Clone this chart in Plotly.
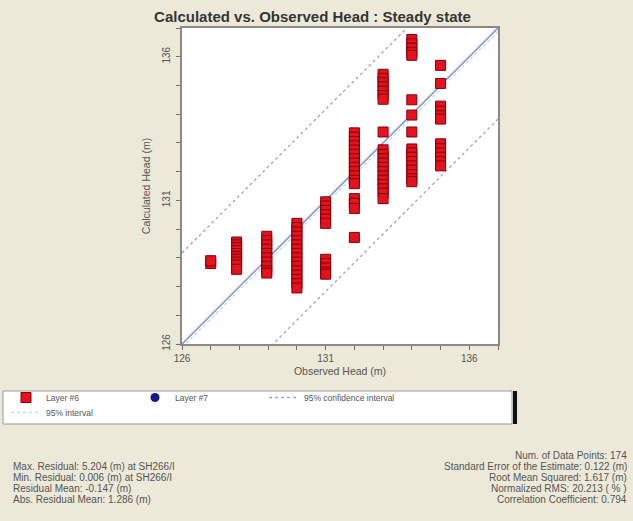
import plotly.graph_objects as go

# ---------------- data ----------------
obs_cols = [127.0, 127.9, 128.95, 130.0, 131.0, 132.0, 133.0, 134.0, 135.0]
calc_cols = [
    [128.8, 128.9],
    [129.55, 129.45, 129.35, 129.25, 129.15, 129.05, 128.95, 128.85, 128.75, 128.6],
    [129.75, 129.6, 129.45, 129.3, 129.15, 129.0, 128.85, 128.7, 128.55, 128.47],
    [130.2, 130.05, 129.9, 129.75, 129.6, 129.45, 129.3, 129.15, 129.0, 128.85,
     128.7, 128.55, 128.4, 128.25, 128.1, 127.95],
    [130.95, 130.8, 130.65, 130.5, 130.35, 130.2, 128.95, 128.8, 128.65, 128.5, 128.43],
    [133.35, 133.2, 133.05, 132.9, 132.75, 132.6, 132.45, 132.3, 132.15, 132.0,
     131.85, 131.7, 131.58, 131.06, 130.9, 130.72, 129.71],
    [135.39, 135.25, 135.1, 134.95, 134.8, 134.65, 134.52, 133.38, 132.76, 132.6,
     132.45, 132.3, 132.15, 132.0, 131.85, 131.7, 131.55, 131.4, 131.25, 131.06],
    [136.6, 136.45, 136.3, 136.15, 136.05, 134.5, 133.97, 133.38, 132.79, 132.65,
     132.5, 132.35, 132.2, 132.05, 131.9, 131.75, 131.65],
    [135.7, 135.07, 134.28, 134.1, 133.95, 133.83, 132.97, 132.8, 132.65, 132.5,
     132.35, 132.2],
]
line_x = [126, 137]
conf_offset = 3.17      # 95% confidence interval half-width (m)
interval_offset = -0.12 # 95% interval line offset (m)

axis_range = [126, 137]
tick_vals = [126, 131, 136]

title_text = "Calculated vs. Observed Head : Steady state"
x_title = "Observed Head (m)"
y_title = "Calculated Head (m)"
left_stats = [
    "Max. Residual: 5.204 (m) at SH266/I",
    "Min. Residual: 0.006 (m) at SH266/I",
    "Residual Mean: -0.147 (m)",
    "Abs. Residual Mean: 1.286 (m)",
]
right_stats = [
    "Num. of Data Points: 174",
    "Standard Error of the Estimate: 0.122 (m)",
    "Root Mean Squared: 1.617 (m)",
    "Normalized RMS: 20.213 ( % )",
    "Correlation Coefficient: 0.794",
]

# ---------------- layout helpers ----------------
W, H = 633, 521
L, R, T, B = 182, 135, 28, 177
PW, PH = W - L - R, H - T - B


def xp(px):
    return (px - L) / PW


def yp(py):
    return (H - B - py) / PH


BG = "#ECE9D8"
FONT = "Liberation Sans"
TXT = "#555555"

obs_all, calc_all = [], []
for o, cs in zip(obs_cols, calc_cols):
    for c in cs:
        obs_all.append(o)
        calc_all.append(c)

fig = go.Figure()

# 1:1 line
fig.add_trace(go.Scatter(x=line_x, y=line_x, mode="lines",
                         line=dict(color="#8C84D6", width=1.5),
                         showlegend=False, hoverinfo="skip"))
# 95% interval line
fig.add_trace(go.Scatter(x=line_x, y=[v + interval_offset for v in line_x], mode="lines",
                         line=dict(color="#9FEFF2", width=1.5, dash="dot"),
                         name="95% interval", legend="legend2", hoverinfo="skip"))
# confidence interval lines
fig.add_trace(go.Scatter(x=line_x, y=[v + conf_offset for v in line_x], mode="lines",
                         line=dict(color="#A39FCF", width=1.3, dash="dot"),
                         name="95% confidence interval", legend="legend3", hoverinfo="skip"))
fig.add_trace(go.Scatter(x=line_x, y=[v - conf_offset for v in line_x], mode="lines",
                         line=dict(color="#A39FCF", width=1.3, dash="dot"),
                         showlegend=False, hoverinfo="skip"))
# data points
fig.add_trace(go.Scatter(x=obs_all, y=calc_all, mode="markers", name="Layer #6",
                         legendrank=1,
                         marker=dict(symbol="square", size=10, color="#E4121C",
                                     line=dict(color="#80000A", width=1))))
fig.add_trace(go.Scatter(x=[None], y=[None], mode="markers", name="Layer #7",
                         legendrank=2,
                         marker=dict(symbol="circle", size=9, color="#1A1690")))

axis_common = dict(
    range=axis_range, tickvals=tick_vals, showgrid=False, zeroline=False,
    showline=True, linecolor="#8A8A8A", linewidth=1.5, mirror=True,
    ticks="outside", ticklen=4, tickcolor="#707070", tickwidth=1,
    minor=dict(dtick=1, tick0=126, ticks="outside", ticklen=4, tickcolor="#707070", showgrid=False),
    tickfont=dict(family=FONT, size=10, color=TXT),
    title_font=dict(family=FONT, size=10.5, color=TXT),
    automargin=False,
)

legend_font = dict(family=FONT, size=8.5, color=TXT)
fig.update_layout(
    width=W, height=H,
    margin=dict(l=L, r=R, t=T, b=B, pad=0, autoexpand=False),
    paper_bgcolor=BG, plot_bgcolor="white",
    xaxis=dict(axis_common, title=dict(text=x_title, standoff=5)),
    yaxis=dict(axis_common, title=dict(text=y_title, standoff=9), tickangle=-90,
               ticklabelstandoff=2),
    showlegend=True,
    legend=dict(orientation="h", x=xp(6), y=yp(383), xanchor="left", yanchor="top",
                bgcolor="rgba(0,0,0,0)", font=legend_font,
                entrywidth=84, entrywidthmode="pixels", traceorder="normal",
                itemclick=False),
    legend2=dict(orientation="h", x=xp(6), y=yp(398), xanchor="left", yanchor="top",
                 bgcolor="rgba(0,0,0,0)", font=legend_font),
    legend3=dict(orientation="h", x=xp(264), y=yp(383), xanchor="left", yanchor="top",
                 bgcolor="rgba(0,0,0,0)", font=legend_font),
    title=dict(text="<b>" + title_text + "</b>", x=xp(338), xanchor="center",
               y=1 - 17 / H, yanchor="middle",
               font=dict(family=FONT, size=15, color="#353535")),
)

# legend box
fig.add_shape(type="rect", xref="paper", yref="paper",
              x0=xp(3), x1=xp(512), y0=yp(391), y1=yp(424),
              fillcolor="white", line=dict(color="#9A9A9A", width=1), layer="below")
fig.add_shape(type="rect", xref="paper", yref="paper",
              x0=xp(513), x1=xp(517), y0=yp(391), y1=yp(424),
              fillcolor="#111111", line=dict(width=0), layer="below")

# statistics text
for i, t in enumerate(left_stats):
    fig.add_annotation(text=t, xref="paper", yref="paper", x=xp(11), y=yp(466 + 11 * i),
                       xanchor="left", yanchor="middle", showarrow=False,
                       font=dict(family=FONT, size=10, color=TXT))
for i, t in enumerate(right_stats):
    fig.add_annotation(text=t, xref="paper", yref="paper", x=xp(629), y=yp(455 + 11 * i),
                       xanchor="right", yanchor="middle", showarrow=False,
                       font=dict(family=FONT, size=10, color=TXT))

fig.write_html("out.html", config={"displayModeBar": False},
               post_script="document.body.style.margin='0';document.body.style.overflow='hidden';")
